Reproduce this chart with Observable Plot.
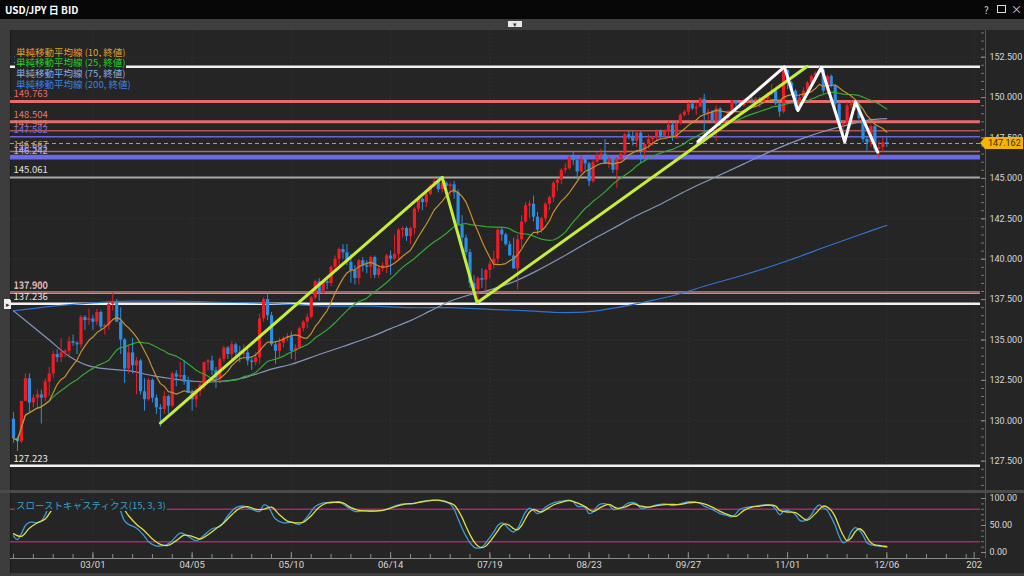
<!DOCTYPE html>
<html><head><meta charset="utf-8">
<script src="https://cdn.jsdelivr.net/npm/d3@7"></script>
<script src="https://cdn.jsdelivr.net/npm/@observablehq/plot@0.6"></script>
<style>
html,body{margin:0;padding:0;background:#1b1b1b;}
#root{position:relative;width:1024px;height:576px;overflow:hidden;background:#252525;font-family:"Noto Sans CJK JP","Noto Sans",sans-serif;}
.abs{position:absolute;}
.leg{position:absolute;left:15px;font-size:9.5px;line-height:11px;height:11px;background:#252525;padding:0 1px;white-space:nowrap;}
svg{position:absolute;left:0;}
</style></head>
<body><div id="root"></div>
<script>
// ---- daily candles, 2023-02-01 .. 2023-12-06 (index = trading day) ----
const opens = [
130.1,128.9,128.7,131.2,132.6,131.1,131.4,131.6,131.4,132.4,
132.9,134.1,133.9,134.2,134.3,134.9,134.8,134.7,136.4,136.2,
136.3,136.1,136.7,135.8,135.9,137.2,137.3,136.1,135.0,133.2,
134.2,133.4,133.7,131.8,131.3,132.5,131.4,130.8,130.7,131.5,
130.9,132.9,132.7,132.8,132.4,131.7,131.3,131.8,132.2,133.6,
133.7,133.1,132.6,133.8,134.5,134.1,134.7,134.2,134.1,134.2,
133.7,133.6,133.9,136.3,137.5,136.5,134.7,134.3,134.8,135.1,
135.2,134.3,134.5,135.7,136.1,136.4,137.6,138.6,137.9,138.6,
138.5,139.5,140.0,140.6,140.4,139.8,139.3,138.8,139.9,139.6,
139.5,140.1,139.0,139.4,139.6,140.2,140.0,140.3,141.8,141.9,
141.4,141.9,143.1,143.7,143.5,144.0,144.5,144.8,144.3,144.7,
144.5,144.6,144.1,142.1,141.3,140.4,138.5,138.1,138.8,138.7,
139.3,139.7,140.0,141.8,141.5,140.9,140.2,139.4,141.2,142.3,
143.3,143.4,142.6,141.8,142.5,143.4,143.8,144.7,144.9,145.5,
145.6,146.3,146.1,145.4,146.2,145.9,144.8,146.0,146.4,146.5,
145.9,146.2,145.5,146.2,146.5,147.7,147.6,147.3,147.8,146.6,
147.1,147.4,147.5,147.9,147.6,147.9,148.3,147.6,148.4,148.9,
149.1,149.6,149.3,149.4,149.9,149.0,149.1,148.5,149.3,148.5,
148.7,149.1,149.8,149.6,149.5,149.8,149.85,149.8,149.9,149.7,
149.9,150.2,150.4,149.6,149.1,151.7,150.9,150.4,149.4,150.0,
150.4,150.9,151.3,151.5,151.7,150.4,151.3,150.7,149.6,148.3,
148.4,149.5,149.6,149.4,148.7,147.4,147.2,148.2,146.8,146.9,
147.2];
const highs = [
130.5,129.0,131.2,132.9,132.9,131.6,131.9,131.9,132.6,133.3,
134.3,134.4,135.1,134.4,135.2,135.3,134.9,136.5,136.5,136.9,
136.5,136.9,136.8,136.0,137.4,137.9,137.5,137.0,135.1,134.6,
135.1,133.9,133.8,132.6,132.6,132.6,131.6,131.0,131.8,131.6,
133.0,133.1,133.6,133.7,132.7,131.9,132.0,132.4,133.6,133.8,
134.0,133.3,133.9,134.6,134.6,134.9,134.8,134.6,134.7,134.4,
133.9,134.2,136.6,137.6,137.8,136.7,134.9,135.1,135.2,135.4,
135.5,134.7,135.8,136.2,136.6,137.7,138.7,138.8,138.7,138.9,
139.6,140.2,140.7,140.9,140.9,140.3,139.6,140.0,140.1,139.9,
140.2,140.2,139.6,139.8,140.3,140.5,141.5,141.9,142.0,142.0,
142.0,143.2,143.9,143.8,144.2,144.6,145.0,145.1,144.8,144.8,
144.7,144.8,144.3,142.7,141.5,140.6,139.0,138.9,139.4,139.4,
139.9,140.5,141.9,142.0,141.6,141.1,141.3,141.5,142.7,143.5,
143.6,143.9,142.9,142.6,143.5,143.9,144.8,145.0,145.6,145.9,
146.4,146.6,146.2,146.4,146.4,146.0,146.1,146.6,146.8,147.4,
146.3,146.3,146.3,146.6,147.8,147.9,147.9,147.9,147.9,147.2,
147.7,147.6,148.0,148.0,148.0,148.5,148.5,148.5,149.0,149.2,
149.7,149.7,149.7,150.0,150.2,149.3,149.2,149.5,149.4,148.9,
149.2,149.8,149.8,149.7,149.9,149.9,150.0,150.0,150.0,150.0,
150.3,150.8,150.5,149.8,151.7,151.7,151.0,150.5,150.2,150.6,
151.0,151.4,151.6,151.9,151.8,151.4,151.4,150.8,149.7,148.5,
149.7,149.8,149.7,149.6,148.8,147.6,148.3,148.3,147.3,147.5,
147.5];
const lows = [
128.6,128.1,128.6,131.2,130.5,130.8,130.8,129.8,131.2,131.5,
132.6,133.6,133.6,133.9,134.0,134.6,134.1,134.5,135.6,135.9,
135.6,135.9,135.6,135.3,135.6,136.8,136.1,134.1,132.3,132.9,
132.9,131.6,131.6,130.6,131.2,131.1,130.4,129.6,130.4,130.4,
130.8,132.1,132.5,132.2,131.7,130.6,130.8,131.5,131.9,133.1,
132.8,132.0,132.3,133.6,133.8,133.7,133.9,133.6,133.9,133.4,
133.1,133.4,133.5,136.1,136.2,134.6,133.5,133.9,134.5,134.9,
133.8,133.7,134.4,135.5,135.7,136.3,137.5,137.4,137.8,138.1,
138.3,139.3,139.6,140.0,139.6,138.5,138.4,138.4,139.2,139.1,
138.8,138.8,138.8,139.2,139.1,139.0,139.9,139.9,141.3,141.1,
140.9,141.5,142.9,143.0,143.2,143.9,144.4,144.1,144.1,144.3,
143.9,143.7,142.1,140.9,140.2,138.2,137.7,137.2,138.2,138.0,
138.8,139.4,139.7,141.1,140.8,140.2,139.4,138.1,140.7,142.2,
142.5,142.3,141.5,141.6,142.3,143.0,143.5,144.2,144.6,145.3,
145.5,145.8,144.9,145.3,145.5,144.5,144.7,145.9,146.1,145.9,
145.6,145.3,144.4,146.0,146.4,147.4,147.0,146.9,145.9,146.3,
146.8,147.0,147.3,147.5,147.6,147.5,147.3,147.4,148.3,148.8,
148.9,149.2,148.9,149.4,147.4,148.6,148.4,147.3,148.5,148.2,
148.6,148.9,149.4,149.3,149.4,149.6,149.6,149.6,149.4,149.6,
149.8,150.1,149.5,148.8,149.0,150.5,150.2,149.2,149.2,149.7,
150.3,150.8,151.2,151.5,150.2,150.2,150.6,149.2,148.1,147.2,
148.3,149.3,149.2,148.6,147.2,146.7,146.9,146.7,146.2,146.6,
146.9];
const closes = [
128.9,128.7,131.2,132.6,131.1,131.4,131.6,131.4,132.4,132.9,
134.1,133.9,134.2,134.3,134.9,134.8,134.7,136.4,136.2,136.3,
136.1,136.7,135.8,135.9,137.2,137.3,136.1,135.0,133.2,134.2,
133.4,133.7,131.8,131.3,132.5,131.4,130.8,130.7,131.5,130.9,
132.9,132.7,132.8,132.4,131.7,131.3,131.8,132.2,133.6,133.7,
133.1,132.6,133.8,134.5,134.1,134.7,134.2,134.1,134.2,133.7,
133.6,133.9,136.3,137.5,136.5,134.7,134.3,134.8,135.1,135.2,
134.3,134.5,135.7,136.1,136.4,137.6,138.6,137.9,138.6,138.5,
139.5,140.0,140.6,140.4,139.8,139.3,138.8,139.9,139.6,139.5,
140.1,139.0,139.4,139.6,140.2,140.0,140.3,141.8,141.9,141.4,
141.9,143.1,143.7,143.5,144.0,144.5,144.8,144.3,144.7,144.5,
144.6,144.1,142.1,141.3,140.4,138.5,138.1,138.8,138.7,139.3,
139.7,140.0,141.8,141.5,140.9,140.2,139.4,141.2,142.3,143.3,
143.4,142.6,141.8,142.5,143.4,143.8,144.7,144.9,145.5,145.6,
146.3,146.1,145.4,146.2,145.9,144.8,146.0,146.4,146.5,145.9,
146.2,145.5,146.2,146.5,147.7,147.6,147.3,147.8,146.6,147.1,
147.4,147.5,147.9,147.6,147.9,148.3,147.6,148.4,148.9,149.1,
149.6,149.3,149.4,149.9,149.0,149.1,148.5,149.3,148.5,148.7,
149.1,149.8,149.6,149.5,149.8,149.85,149.8,149.9,149.7,149.9,
150.2,150.4,149.6,149.1,151.7,150.9,150.4,149.4,150.0,150.4,
150.9,151.3,151.5,151.7,150.4,151.3,150.7,149.6,148.3,148.4,
149.5,149.6,149.4,148.7,147.4,147.2,148.2,146.8,146.9,147.2,
147.162];

// ---- moving averages: [day index, value] ----
const sma75 = [[0,136.8],[4,136.0],[9,135.0],[14,134.0],[19,133.4],[24,133.2],[29,133.1],[35,132.8],[40,132.6],[45,132.45],[50,132.4],[57,132.6],[60,132.8],[65,133.2],[70,133.5],[77,134.1],[83,134.6],[90,135.2],[95,135.7],[100,136.2],[105,136.8],[110,137.4],[115,137.8],[120,138.1],[126,138.6],[132,139.3],[138,140.1],[145,141.1],[151,141.9],[157,142.7],[163,143.4],[170,144.3],[177,145.1],[184,145.9],[191,146.7],[198,147.4],[204,147.9],[210,148.3],[215,148.6],[220,148.7]];
const sma200 = [[0,136.8],[10,137.1],[20,137.3],[30,137.4],[40,137.4],[50,137.35],[60,137.3],[70,137.2],[80,137.1],[90,137.1],[100,137.0],[110,137.0],[120,136.9],[130,136.8],[137,136.7],[145,136.75],[152,137.0],[160,137.4],[167,137.8],[175,138.4],[185,139.1],[195,139.9],[205,140.8],[213,141.5],[220,142.1]];

// ---- horizontal levels ----
const levelValues = [151.908,149.763,148.504,147.942,147.582,146.667,146.382,146.242,145.061,137.980,137.900,137.236,127.223];
const levelColors = ["#f2f2f2","#e86a6a","#e86a6a","#b0564e","#6c62dc","#b86a5a","#6a6ae8","#6a6ae8","#a8a8a8","#c05a5a","#c08a8a","#f2f2f2","#f2f2f2"];
const levelWidths = [2.5,3,3,1.5,1.5,1.5,2.5,2.5,2,1.5,1.5,2.5,2.5];
const levelLabelColors = ["#f2f2f2","#e86a6a","#e07a6a","#d07a6a","#7a70e0","#d0a070","#8a80e8","#b8b0f0","#e0e0e0","#d07070","#e0d0d0","#e8e8e8","#e8e8e8"];
const currentPrice = 147.162;

// ---- drawn trendlines [day index, price] ----
const trendUp1 = [[37,129.86],[108,145.06]];
const trendDown = [[108,145.06],[116.8,137.3]];
const trendUp2 = [[116.8,137.3],[199.9,151.92]];
const zigzag = [[172.4,147.28],[194.2,151.9],[197.6,149.2],[203.5,151.86],[209.4,147.27],[212.1,149.74],[217.7,146.62]];

// ---- slow stochastics ----
const stochK = [[0,31],[1,24],[2,35],[3,50],[4,56],[6,55],[7,58],[8,70],[9,86],[10,93],[12,95],[14,96],[16,93],[17,97],[19,95],[21,96],[23,94],[25,97],[26,90],[27,76],[28,58],[29,52],[31,45],[33,30],[34,20],[36,12],[38,13],[39,16],[40,22],[42,36],[44,30],[46,22],[48,32],[50,44],[52,48],[54,68],[56,83],[58,86],[60,80],[62,76],[63,88],[64,86],[66,62],[68,55],[70,56],[72,52],[74,66],[76,85],[78,92],[80,92],[82,94],[84,85],[86,76],[88,77],[90,76],[92,77],[94,80],[96,86],[98,90],[100,90],[102,93],[104,96],[106,97],[108,95],[110,90],[111,80],[112,62],[113,45],[114,30],[115,18],[116,10],[117,8],[118,10],[119,18],[120,28],[121,38],[122,50],[123,55],[124,50],[125,42],[126,38],[127,45],[128,60],[129,75],[130,82],[131,78],[132,72],[133,76],[134,84],[136,92],[138,95],[140,97],[141,94],[142,86],[143,85],[144,84],[145,72],[146,75],[147,85],[148,90],[150,88],[151,80],[152,80],[153,82],[155,92],[157,90],[158,82],[160,84],[162,88],[164,90],[166,87],[168,90],[170,94],[172,93],[173,91],[174,86],[176,80],[178,72],[180,68],[181,66],[182,72],[183,80],[185,84],[187,86],[189,88],[191,87],[192,80],[193,70],[194,76],[195,78],[196,75],[197,70],[198,60],[199,58],[200,62],[201,70],[202,82],[203,88],[204,83],[205,78],[206,65],[207,50],[208,30],[209,18],[210,22],[211,38],[212,46],[213,42],[214,32],[215,18],[216,14],[217,13],[218,12],[219,11],[220,10]];
const stochD = [[0,35],[2,30],[4,45],[6,55],[8,62],[10,82],[12,92],[15,95],[18,95],[22,95],[25,95],[27,88],[29,68],[31,52],[33,40],[35,25],[37,15],[39,13],[41,22],[43,32],[45,30],[47,25],[49,33],[51,44],[53,55],[55,70],[57,82],[59,85],[61,80],[63,80],[65,84],[67,70],[69,58],[71,55],[73,56],[75,68],[77,84],[79,92],[81,93],[83,92],[85,83],[87,78],[89,77],[91,77],[93,78],[95,82],[97,87],[99,90],[101,91],[103,94],[105,96],[107,97],[109,94],[111,88],[112,78],[113,65],[114,48],[115,33],[116,20],[117,12],[118,9],[119,12],[120,20],[121,30],[122,40],[123,50],[124,53],[125,50],[126,44],[127,42],[128,50],[129,63],[130,75],[131,80],[132,77],[133,75],[134,79],[136,88],[138,93],[140,96],[142,92],[144,85],[146,76],[148,84],[150,89],[152,82],[154,84],[156,90],[158,86],[160,84],[162,87],[165,89],[168,89],[170,92],[172,93],[174,90],[176,84],[178,76],[180,70],[182,67],[184,78],[186,84],[188,86],[190,88],[192,86],[193,78],[195,75],[197,74],[199,63],[200,60],[202,72],[204,86],[205,84],[206,78],[207,66],[208,48],[209,32],[210,22],[211,27],[212,38],[213,44],[214,40],[215,28],[216,18],[217,14],[218,13],[219,12],[220,11]];

// ---- axis ticks ----
const xTickIdx = [20,45,70,95,120,145,170,195,220,242];
const xTickLabels = ["03/01","04/05","05/10","06/14","07/19","08/23","09/27","11/01","12/06","202"];
const priceTicks = [127.5,130,132.5,135,137.5,140,142.5,145,147.5,150,152.5];
const stochTicks = [0,50,100];
const legendLabels = ["単純移動平均線 (10, 終値)","単純移動平均線 (25, 終値)","単純移動平均線 (75, 終値)","単純移動平均線 (200, 終値)"];
const legendColors = ["#e0a030","#22d022","#88aee6","#3a82e0"];
const stochLabel = "スローストキャスティクス(15, 3, 3)";

// ================= rendering =================
const root = document.getElementById("root");
const RED = "#ee1c25", BLUE = "#2a8fe4";
const candles = closes.map((c, i) => ({i, open: opens[i], high: highs[i], low: lows[i], close: c}));
const col = d => d.close >= d.open ? RED : BLUE;
const levels = levelValues.map((v, k) => ({v, label: v.toFixed(3), c: levelColors[k], w: levelWidths[k], lc: levelLabelColors[k]}));
const XDOM = [-0.76, 243.6];
const font = '"Noto Sans CJK JP","Noto Sans",sans-serif';
const axisFont = 'Roboto,"Noto Sans",sans-serif';
const labelMap = new Map(xTickIdx.map((d, k) => [d, xTickLabels[k]]));
const weekIdx = d3.range(0, 241, 5);

function addDiv(style, html) {
  const d = document.createElement("div");
  d.className = "abs";
  Object.assign(d.style, style);
  if (html != null) d.innerHTML = html;
  root.appendChild(d);
  return d;
}

// frame pieces
addDiv({left: "0px", top: "0px", width: "1024px", height: "19px", background: "#060606"});
addDiv({left: "5px", top: "2px", color: "#fff", fontSize: "10px", fontWeight: "bold", fontFamily: font}, "USD/JPY 日 BID");
addDiv({left: "984px", top: "2px", color: "#ddd", fontSize: "10px", fontFamily: font}, "?");
addDiv({left: "997px", top: "5px", width: "7px", height: "6px", border: "1px solid #ddd"});
addDiv({left: "1011px", top: "1px", color: "#ddd", fontSize: "11px", fontFamily: font}, "×");
addDiv({left: "0px", top: "19px", width: "1024px", height: "11px", background: "#3e3e3e"});
addDiv({left: "508px", top: "21px", width: "14px", height: "6px", background: "#e8e8e8", color: "#333", fontSize: "7px", lineHeight: "6px", textAlign: "center"}, "▾");
addDiv({left: "0px", top: "30px", width: "10px", height: "546px", background: "#3c3c3c"});
addDiv({left: "10px", top: "30px", width: "1px", height: "546px", background: "#1a1a1a"});
addDiv({left: "0px", top: "490px", width: "1024px", height: "3px", background: "#4a4a4a"});
addDiv({left: "0px", top: "573px", width: "1024px", height: "3px", background: "#3c3c3c"});
addDiv({left: "985px", top: "30px", width: "1px", height: "460px", background: "#5a5a5a"});
addDiv({left: "985px", top: "493px", width: "1px", height: "65px", background: "#5a5a5a"});
addDiv({left: "4px", top: "299px", width: "7px", height: "10px", background: "#f0f0f0", color: "#333", fontSize: "7px", lineHeight: "10px", textAlign: "center"}, "▸");

// main price panel
const main = Plot.plot({
  width: 1024, height: 462,
  marginLeft: 10, marginRight: 44, marginTop: 1, marginBottom: 1,
  x: {domain: XDOM, axis: null},
  y: {domain: [125.686, 154.152], axis: null},
  color: {type: "identity"},
  style: {background: "transparent", color: "#d8d8d8", fontSize: "10px", fontFamily: font},
  marks: [
    Plot.ruleY(priceTicks, {y: d => d, stroke: "#3a3a3a", strokeDasharray: "1,3"}),
    Plot.ruleX(xTickIdx, {x: d => d, stroke: "#3a3a3a", strokeDasharray: "1,3"}),
    Plot.ruleY(levels, {y: "v", stroke: "c", strokeWidth: "w"}),
    Plot.ruleY([currentPrice], {y: d => d, stroke: "#d8a21c", strokeDasharray: "4,3", strokeWidth: 1}),
    Plot.line(sma200, {x: d => d[0], y: d => d[1], stroke: "#2f74d0", strokeWidth: 1.2, curve: "catmull-rom"}),
    Plot.line(sma75, {x: d => d[0], y: d => d[1], stroke: "#8496bc", strokeWidth: 1.2, curve: "catmull-rom"}),
    Plot.ruleX(candles, {x: "i", y1: "low", y2: "high", stroke: col, strokeWidth: 1}),
    Plot.ruleX(candles, {x: "i", y1: "open", y2: "close", stroke: col, strokeWidth: 3.2}),
    Plot.lineY(candles, Plot.windowY({k: 25, anchor: "end", reduce: "mean"}, {x: "i", y: "close", stroke: "#33a833", strokeWidth: 1.2})),
    Plot.lineY(candles, Plot.windowY({k: 10, anchor: "end", reduce: "mean"}, {x: "i", y: "close", stroke: "#c8902c", strokeWidth: 1.2})),
    Plot.line(trendUp1, {x: d => d[0], y: d => d[1], stroke: "#c6ee38", strokeWidth: 3}),
    Plot.line(trendDown, {x: d => d[0], y: d => d[1], stroke: "#c6ee38", strokeWidth: 3}),
    Plot.line(trendUp2, {x: d => d[0], y: d => d[1], stroke: "#c6ee38", strokeWidth: 3}),
    Plot.line(zigzag, {x: d => d[0], y: d => d[1], stroke: "#ffffff", strokeWidth: 3}),
    Plot.text(levels, {x: XDOM[0], y: "v", text: "label", fill: "lc", textAnchor: "start", dx: 3, dy: -7, fontSize: 9.5}),
    Plot.axisY({anchor: "right", ticks: d3.range(126, 154.1, 0.5), tickSize: 3, tickFormat: () => "", stroke: "#777"}),
    Plot.axisY({anchor: "right", ticks: priceTicks, tickSize: 5, tickPadding: 4, tickFormat: d3.format(".3f"), stroke: "#888", fill: "#d8d8d8", fontSize: 9, fontFamily: axisFont})
  ]
});
main.style.top = "29px";
root.appendChild(main);

// current price tag
const yScale = main.scale("y");
const ty = 29 + yScale.apply(currentPrice);
addDiv({left: "980px", top: (ty - 6) + "px", width: "43px", height: "12px", background: "#f4b400",
  clipPath: "polygon(0 50%, 5px 0, 100% 0, 100% 100%, 5px 100%)", color: "#3a2a00", fontSize: "9px",
  lineHeight: "12px", fontFamily: axisFont, paddingLeft: "8px", boxSizing: "border-box"}, currentPrice.toFixed(3));

// legend
legendLabels.forEach((t, k) => {
  const d = document.createElement("div");
  d.className = "leg";
  d.style.top = [46.5, 56.5, 67.5, 78.5][k] + "px";
  d.style.color = legendColors[k];
  d.textContent = t;
  root.appendChild(d);
});

// stochastic panel
const stoch = Plot.plot({
  width: 1024, height: 83,
  marginLeft: 10, marginRight: 44, marginTop: 2, marginBottom: 16,
  x: {domain: XDOM, axis: null},
  y: {domain: [-11.1, 109.26], axis: null},
  style: {background: "transparent", color: "#d8d8d8", fontSize: "10px", fontFamily: font},
  marks: [
    Plot.ruleX(xTickIdx, {x: d => d, stroke: "#3a3a3a", strokeDasharray: "1,3"}),
    Plot.ruleY([80, 20], {y: d => d, stroke: "#a8286e", strokeWidth: 1.5}),
    Plot.line(stochK, {x: d => d[0], y: d => d[1], stroke: "#3b9bd8", strokeWidth: 1.3, curve: "catmull-rom"}),
    Plot.line(stochD, {x: d => d[0], y: d => d[1], stroke: "#e0e040", strokeWidth: 1.3, curve: "catmull-rom"}),
    Plot.ruleY([-11.1], {y: d => d, stroke: "#8a8a8a"}),
    Plot.ruleX(weekIdx, {x: d => d, y1: -11.1, y2: -3.7, stroke: "#8a8a8a"}),
    Plot.ruleX(xTickIdx, {x: d => d, y1: -11.1, y2: 0, stroke: "#8a8a8a"}),
    Plot.axisX({anchor: "bottom", ticks: xTickIdx, tickSize: 0, tickPadding: 3, tickFormat: d => labelMap.get(d), fill: "#d8d8d8", fontSize: 9.5, fontFamily: axisFont}),
    Plot.axisY({anchor: "right", ticks: d3.range(0, 101, 10), tickSize: 3, tickFormat: () => "", stroke: "#777"}),
    Plot.axisY({anchor: "right", ticks: stochTicks, tickSize: 5, tickPadding: 4, tickFormat: d3.format(".2f"), stroke: "#888", fill: "#d8d8d8", fontSize: 9, fontFamily: axisFont})
  ]
});
stoch.style.top = "491px";
root.appendChild(stoch);

const sl = document.createElement("div");
sl.className = "leg";
sl.style.top = "500px";
sl.style.color = "#3aa0d0";
sl.textContent = stochLabel;
root.appendChild(sl);
</script>
</body></html>
